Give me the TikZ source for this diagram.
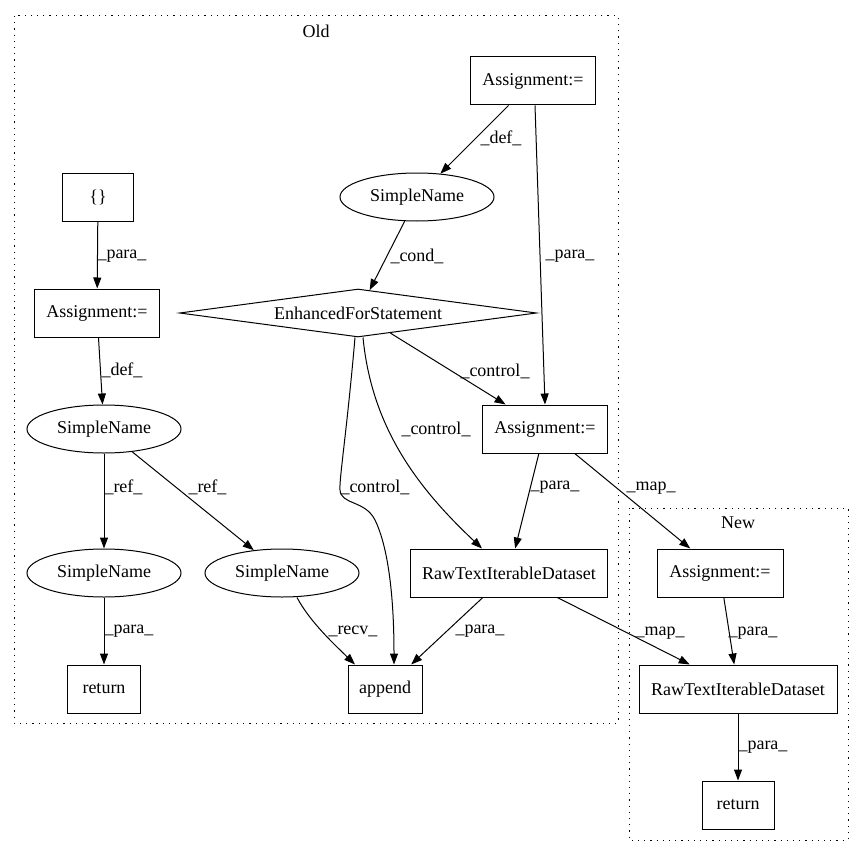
\documentclass[tikz,border=0pt]{standalone}
\usepackage{fontspec}
\setmainfont{Liberation Serif}
\usetikzlibrary{shapes.geometric,arrows.meta}
\begin{document}
\begin{tikzpicture}[x=1pt,y=-1pt,
  every node/.style={font=\fontsize{18pt}{20pt}\selectfont},
  box/.style={draw,line width=1pt,rectangle,minimum height=48pt,inner sep=0pt},
  ell/.style={draw,line width=1pt,ellipse,minimum width=154pt,minimum height=48pt,inner sep=0pt},
  dia/.style={draw,line width=1pt,diamond,aspect=7.4,minimum width=357pt,minimum height=48pt,inner sep=0pt},
  edge/.style={draw,line width=1pt,-{Triangle[length=11pt,width=8pt]}},
  lbl/.style={anchor=west,inner sep=0pt},
  cluster/.style={draw,line width=1pt,dash pattern=on 1.2pt off 5pt}]
\useasboundingbox (0,0) rectangle (864,856);
% clusters
\draw[cluster] (14,16) rectangle (618,723);
\node (oldlbl) at (316,31) {Old};
\draw[cluster] (629,508) rectangle (848,840);
\node (newlbl) at (738,523) {New};
% nodes Old
\node[box,minimum width=125pt] (ta) at (533,81) {Assignment:=};
\node[ell] (snt) at (417,197) {SimpleName};
\node[box,minimum width=71pt] (br) at (98,197) {\{\}};
\node[box,minimum width=125pt] (al) at (97,313) {Assignment:=};
\node[dia] (efs) at (358,313) {EnhancedForStatement};
\node[ell] (snm) at (104,429) {SimpleName};
\node[box,minimum width=125pt] (am) at (545,429) {Assignment:=};
\node[ell] (snl) at (104,573) {SimpleName};
\node[ell] (snr) at (282,573) {SimpleName};
\node[box,minimum width=197pt] (rto) at (509,573) {RawTextIterableDataset};
\node[box,minimum width=73pt] (rl) at (104,689) {return};
\node[box,minimum width=74pt] (ap) at (385,689) {append};
% nodes New
\node[box,minimum width=126pt] (an) at (720,573) {Assignment:=};
\node[box,minimum width=198pt] (rtn) at (738,689) {RawTextIterableDataset};
\node[box,minimum width=72pt] (rn) at (738,805) {return};
% edges
\draw[edge] (br) -- (al) node[lbl] at (97,256) {\_para\_};
\draw[edge] (al) -- (snm) node[lbl] at (101,370) {\_def\_};
\draw[edge] (snm) -- (snl) node[lbl] at (104,487) {\_ref\_};
\draw[edge] (snm) -- (snr) node[lbl] at (188,487) {\_ref\_};
\draw[edge] (snl) -- (rl) node[lbl] at (104,631) {\_para\_};
\draw[edge] ([xshift=15pt]snr.south) .. controls (310,622) and (335,645) .. ([xshift=-30pt]ap.north) node[lbl] at (328,631) {\_recv\_};
\draw[edge] (ta) -- (snt) node[lbl] at (480,138) {\_def\_};
\draw[edge] ([xshift=2pt]ta.south) -- (am.north) node[lbl] at (545,256) {\_para\_};
\draw[edge] (snt) -- (efs) node[lbl] at (390,256) {\_cond\_};
\draw[edge] (efs) -- (am) node[lbl] at (460,371) {\_control\_};
\draw[edge] ([xshift=5pt]efs.south) .. controls (372,430) and (420,490) .. ([xshift=-27pt]rto.north) node[lbl] at (401,429) {\_control\_};
\draw[edge] ([xshift=-3pt]efs.south) .. controls (347,430) and (339,480) .. (340,490) .. controls (341,505) and (365,500) .. (375,520) .. controls (392,555) and (394,620) .. ([xshift=9pt]ap.north) node[lbl] at (340,487) {\_control\_};
\draw[edge] (am) -- (rto) node[lbl] at (530,487) {\_para\_};
\draw[edge] (am) -- (an) node[lbl] at (626,488) {\_map\_};
\draw[edge] (rto) -- (ap) node[lbl] at (455,631) {\_para\_};
\draw[edge] (rto) -- (rtn) node[lbl] at (635,633) {\_map\_};
\draw[edge] (an) -- (rtn) node[lbl] at (728,633) {\_para\_};
\draw[edge] (rtn) -- (rn) node[lbl] at (738,747) {\_para\_};
\end{tikzpicture}
\end{document}
